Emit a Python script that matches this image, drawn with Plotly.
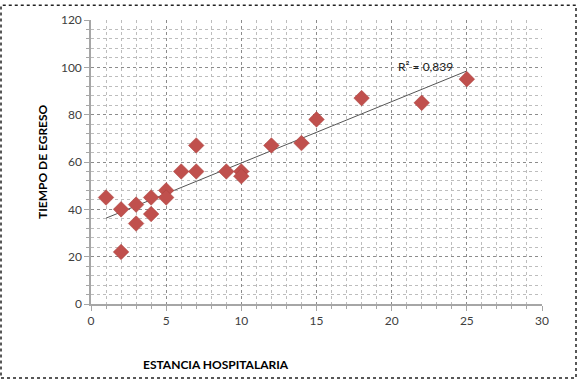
import numpy as np
import plotly.graph_objects as go

estancia = [1, 2, 2, 3, 3, 4, 4, 5, 5, 6, 7, 7, 9, 10, 10, 12, 14, 15, 18, 22, 25]
tiempo = [45, 40, 22, 42, 34, 45, 38, 48, 45, 56, 56, 67, 56, 56, 54, 67, 68, 78, 87, 85, 95]
r2_label = "R² = 0,839"
x_title = "ESTANCIA HOSPITALARIA"
y_title = "TIEMPO DE EGRESO"

W, H = 577, 380
L, R, T, B = 91, 35, 16, 76
pw, ph = W - L - R, H - T - B

slope, intercept = np.polyfit(estancia, tiempo, 1)
xfit = [min(estancia), max(estancia)]
yfit = [slope * v + intercept for v in xfit]

font = "Lato, Carlito, Calibri, sans-serif"

fig = go.Figure()
fig.add_trace(go.Scatter(x=xfit, y=yfit, mode="lines",
                         line=dict(color="#555555", width=1), hoverinfo="skip", showlegend=False))
fig.add_trace(go.Scatter(x=estancia, y=tiempo, mode="markers",
                         marker=dict(symbol="diamond", size=12, color="#C0504D",
                                     line=dict(color="#A8403D", width=0.5)),
                         showlegend=False))

fig.add_annotation(x=xfit[1], y=yfit[1], text=r2_label, showarrow=False,
                   xanchor="right", yanchor="bottom", xshift=-12, yshift=-5,
                   font=dict(family=font, size=12, color="#222222"))

fig.add_annotation(xref="paper", yref="paper", x=(216 - L) / pw, y=-(365 - T - ph) / ph,
                   text="<b>" + x_title + "</b>", showarrow=False,
                   xanchor="center", yanchor="middle",
                   font=dict(family=font, size=12, color="#000000"))
fig.add_annotation(xref="paper", yref="paper", x=-(L - 42) / pw, y=0.5,
                   text="<b>" + y_title + "</b>", showarrow=False, textangle=-90,
                   xanchor="center", yanchor="middle",
                   font=dict(family=font, size=12, color="#000000"))

# outer dotted border of the chart
fig.add_shape(type="rect", xref="paper", yref="paper",
              x0=-(L - 1) / pw, x1=1 + (R - 1) / pw, y0=-(B - 1) / ph, y1=1 + (T - 1) / ph,
              line=dict(color="#222222", width=1.5, dash="dot"), layer="above")

axis_common = dict(showline=True, linecolor="#A6A6A6", linewidth=1.5, mirror=False,
                   ticks="outside", ticklen=5, tickcolor="#A6A6A6",
                   tickfont=dict(family=font, size=12, color="#404040"),
                   showgrid=True, gridcolor="#8C8C8C", griddash="dot", gridwidth=1,
                   zeroline=False)

fig.update_xaxes(range=[0, 30], dtick=5, tick0=0,
                 minor=dict(dtick=1, showgrid=True, gridcolor="#BDBDBD", griddash="dot",
                            ticks="outside", ticklen=3, tickcolor="#A6A6A6"),
                 **axis_common)
fig.update_yaxes(range=[0, 120], dtick=20, tick0=0,
                 minor=dict(dtick=4, showgrid=True, gridcolor="#BDBDBD", griddash="dot",
                            ticks="outside", ticklen=3, tickcolor="#A6A6A6"),
                 **axis_common)

fig.update_layout(width=W, height=H, margin=dict(l=L, r=R, t=T, b=B, pad=0),
                  paper_bgcolor="white", plot_bgcolor="white",
                  font=dict(family=font))

fig.write_html("out.html", config={"displayModeBar": False},
               post_script="document.body.style.margin='0';")
